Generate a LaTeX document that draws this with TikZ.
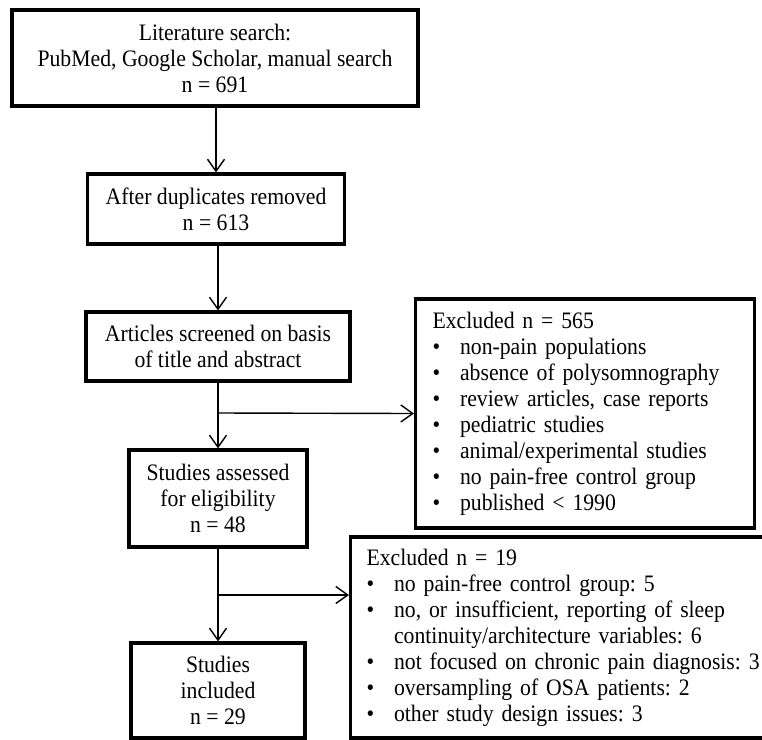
\documentclass[tikz,border=0pt]{standalone}
\usepackage{fontspec}
\setmainfont[FakeStretch=0.92]{Liberation Serif}
\usetikzlibrary{arrows.meta}
\newcommand\itm[1]{\makebox[27.5pt][l]{\textbullet}#1}
\frenchspacing
\begin{document}
\begin{tikzpicture}[x=1pt,y=-1pt,
  box/.style={draw,line width=3.2pt,inner sep=0pt,align=center,
    font=\fontsize{23.6}{26}\selectfont},
  listbox/.style={draw,line width=3.2pt,inner ysep=0pt,align=left,
    font=\fontsize{23.6}{26}\selectfont},
  arr/.style={line width=1.4pt,-{Straight Barb[length=12pt,width=17pt,line width=1.4pt]}}]
\clip (0,0) rectangle (762,739);
\fill[white] (0,0) rectangle (762,739);
\node[box,minimum width=406pt,minimum height=96pt] (b1) at (215,58)
  {Literature search:\\ PubMed, Google Scholar, manual search\\ n = 691};
\node[box,minimum width=257pt,minimum height=70pt] (b2) at (216,209)
  {After duplicates removed\\ n = 613};
\node[box,minimum width=264pt,minimum height=69pt] (b3) at (218,346.5)
  {Articles screened on basis\\ of title and abstract};
\node[box,minimum width=178pt,minimum height=97pt] (b5) at (218,498.5)
  {Studies assessed\\ for eligibility\\ n = 48};
\node[box,minimum width=174pt,minimum height=95pt] (b7) at (218,690.5)
  {Studies\\ included\\ n = 29};
\node[listbox,inner xsep=17pt,text width=305pt,minimum height=229pt,anchor=west] (b4) at (414,413.5)
  {Excluded n = 565\\
   \itm{non-pain populations}\\
   \itm{absence of polysomnography}\\
   \itm{review articles, case reports}\\
   \itm{pediatric studies}\\
   \itm{animal/experimental studies}\\
   \itm{no pain-free control group}\\
   \itm{published < 1990}};
\node[listbox,inner xsep=16pt,text width=430pt,minimum height=201pt,anchor=west] (b6) at (349,637.5)
  {Excluded n = 19\\
   \itm{no pain-free control group: 5}\\
   \itm{no, or insufficient, reporting of sleep}\\
   \hspace*{27.5pt}continuity/architecture variables: 6\\
   \itm{not focused on chronic pain diagnosis: 3}\\
   \itm{oversampling of OSA patients: 2}\\
   \itm{other study design issues: 3}};
\coordinate (j1) at (218,413);
\coordinate (j2) at (218,595);
\draw[arr] (b2.north |- b1.south) -- (b2.north);
\draw[arr] (b3.north |- b2.south) -- (b3.north);
\draw[line width=1.4pt] (b3.south) -- (j1);
\draw[arr] (j1) -- (b5.north);
\draw[arr] (j1) -- (b4.west);
\draw[line width=1.4pt] (b5.south) -- (j2);
\draw[arr] (j2) -- (j2 -| b6.west);
\draw[arr] (j2) -- (b7.north);
\end{tikzpicture}
\end{document}
